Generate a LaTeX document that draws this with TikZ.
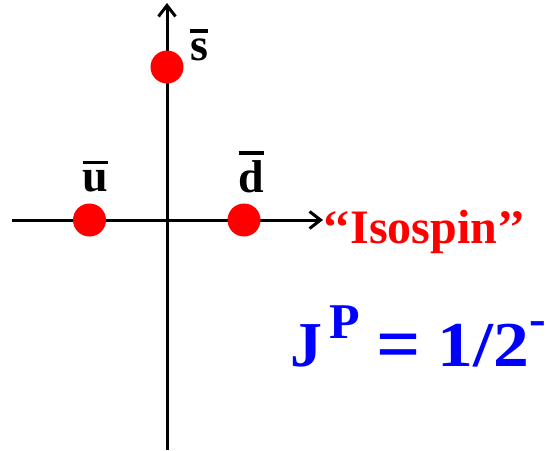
\documentclass[tikz,border=0pt]{standalone}
\usepackage{fontspec}
\setmainfont{Liberation Serif}
\usetikzlibrary{arrows.meta}
\newcommand\qbar[1]{\leavevmode\vbox{\hrule height 3.5pt\kern 5.5pt\hbox{#1}}}
\begin{document}
\begin{tikzpicture}[x=1pt,y=-1pt,
  axis/.style={line width=3pt,-{Straight Barb[length=11pt,width=17pt]}},
  dot/.style={circle,fill=red,inner sep=0pt,minimum size=33pt},
  qlab/.style={font=\bfseries\fontsize{46}{46}\selectfont,inner sep=0pt,anchor=base},
  isolab/.style={font=\bfseries\fontsize{48}{48}\selectfont,text=red,inner sep=0pt,anchor=base west},
  jplab/.style={font=\bfseries\fontsize{64}{64}\selectfont,text=blue,inner sep=0pt,anchor=base west}]
\useasboundingbox (0,0) rectangle (553,450);
\coordinate (vb) at (167,450);
\coordinate (vt) at (167,3);
\coordinate (hl) at (12,220);
\coordinate (hr) at (323,220);
\draw[axis] (vb) -- (vt);
\draw[axis] (hl) -- (hr);
\node[dot] (sdot) at (167,67) {};
\node[dot] (udot) at (89.5,220) {};
\node[dot] (ddot) at (244,220) {};
\node[qlab] (slab) at (199,60) {\qbar{s}};
\node[qlab] (ulab) at (95.5,191) {\qbar{u}};
\node[qlab] (dlab) at (251.5,192) {\qbar{d}};
\node[isolab] (iso) at (322,243) {‘‘Isospin’’};
\node[jplab] (jp) at (290,366) {J\kern7pt\raisebox{28pt}{\fontsize{50}{50}\selectfont P}\kern17pt\raisebox{-4pt}{\fontsize{78}{78}\selectfont =}\kern16.5pt\scalebox{1.12}[1]{1/2}\raisebox{30.5pt}{\fontsize{50}{50}\selectfont -}};
\end{tikzpicture}
\end{document}
